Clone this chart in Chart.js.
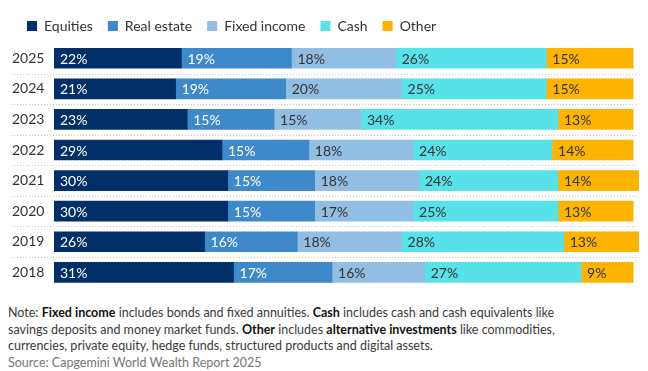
<!DOCTYPE html>
<html>
<head>
<meta charset="utf-8">
<script src="https://cdn.jsdelivr.net/npm/chart.js@4.4.1/dist/chart.umd.min.js"></script>
<style>
  body { margin: 0; background: #fff; font-family: Lato, sans-serif; }
  #wrap { position: relative; width: 648px; height: 306px; }
  .notes { margin: -1px 0 0 8px; font-size: 12.5px; line-height: 16.5px; color: #3a3a3a; width: 575px; }
  .notes b { color: #111; font-weight: 700; }
  .source { font-size: 12.5px; color: #777; margin: 0 0 0 8px; line-height: 16.5px; }
</style>
</head>
<body>
<div id="wrap"><canvas id="chart"></canvas></div>
<div class="notes">Note: <b>Fixed income</b> includes bonds and fixed annuities. <b>Cash</b> includes cash and cash equivalents like savings deposits and money market funds. <b>Other</b> includes <b>alternative investments</b> like commodities, currencies, private equity, hedge funds, structured products and digital assets.</div>
<div class="source">Source: Capgemini World Wealth Report 2025</div>
<script>
const years = ['2025', '2024', '2023', '2022', '2021', '2020', '2019', '2018'];
const equities = [22, 21, 23, 29, 30, 30, 26, 31];
const realEstate = [19, 19, 15, 15, 15, 15, 16, 17];
const fixedIncome = [18, 20, 15, 18, 18, 17, 18, 16];
const cash = [26, 25, 34, 24, 24, 25, 28, 27];
const other = [15, 15, 13, 14, 14, 13, 13, 9];

const seriesNames = ['Equities', 'Real estate', 'Fixed income', 'Cash', 'Other'];
const seriesColors = ['#003067', '#3e89c9', '#93bee3', '#59e1e9', '#fdb400'];
const labelColors = ['#fff', '#fff', '#333', '#333', '#333'];
const seriesData = [equities, realEstate, fixedIncome, cash, other];

// values printed inside each bar segment
const barLabels = {
  id: 'barLabels',
  afterDatasetsDraw(chart) {
    const { ctx } = chart;
    ctx.save();
    ctx.font = '14px Lato';
    ctx.textBaseline = 'middle';
    ctx.textAlign = 'left';
    chart.data.datasets.forEach((ds, i) => {
      const meta = chart.getDatasetMeta(i);
      meta.data.forEach((bar, j) => {
        ctx.fillStyle = labelColors[i];
        ctx.fillText(ds.data[j] + '%', Math.min(bar.x, bar.base) + 6, bar.y + 1);
      });
    });
    ctx.restore();
  },
};

// dotted separators between the rows
const rowLines = {
  id: 'rowLines',
  beforeDatasetsDraw(chart) {
    const { ctx } = chart;
    const y = chart.scales.y;
    ctx.save();
    ctx.strokeStyle = '#c4c4c4';
    ctx.lineWidth = 1;
    ctx.setLineDash([1, 2]);
    for (let i = 0; i < years.length - 1; i++) {
      const py = Math.round((y.getPixelForValue(i) + y.getPixelForValue(i + 1)) / 2) + 0.5;
      ctx.beginPath();
      ctx.moveTo(11, py);
      ctx.lineTo(638, py);
      ctx.stroke();
    }
    ctx.restore();
  },
};

new Chart(document.getElementById('chart'), {
  type: 'bar',
  data: {
    labels: years,
    datasets: seriesData.map((d, i) => ({
      label: seriesNames[i],
      data: d,
      backgroundColor: seriesColors[i],
      borderWidth: 0,
      barThickness: 20,
    })),
  },
  options: {
    indexAxis: 'y',
    responsive: true,
    maintainAspectRatio: false,
    animation: false,
    layout: { padding: { left: 12, right: 9, top: 4, bottom: 0 } },
    scales: {
      x: { stacked: true, display: false, min: 0, max: 101 },
      y: {
        stacked: true,
        grid: { display: false, drawTicks: false },
        border: { display: false },
        ticks: { color: '#333', font: { family: 'Lato', size: 14 }, crossAlign: 'far', padding: 10 },
        afterFit(scale) { scale.width = 42; },
      },
    },
    plugins: {
      legend: {
        position: 'top',
        align: 'start',
        labels: {
          boxWidth: 10,
          boxHeight: 10,
          color: '#333',
          font: { family: 'Lato', size: 14 },
          padding: 15,
        },
      },
      tooltip: { enabled: false },
    },
  },
  plugins: [rowLines, barLabels],
});
</script>
</body>
</html>
